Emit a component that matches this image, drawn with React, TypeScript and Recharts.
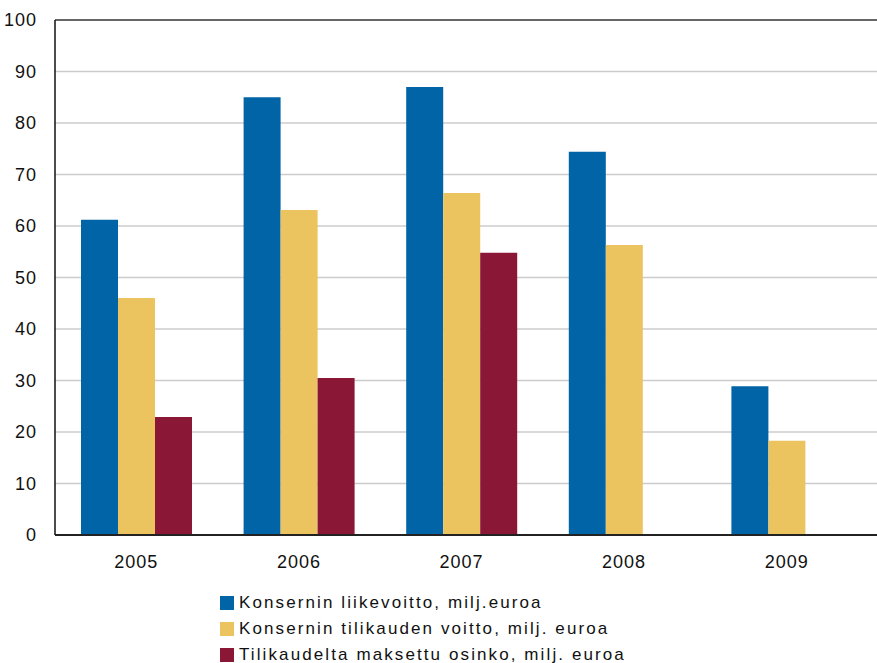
import { BarChart, Bar, XAxis, YAxis, CartesianGrid, ReferenceLine } from 'recharts';

// Vuosittaiset luvut, milj. euroa
const years = ['2005', '2006', '2007', '2008', '2009'];
const liikevoitto = [61.2, 85.0, 87.0, 74.4, 28.9];
const tilikaudenVoitto = [46.0, 63.1, 66.4, 56.3, 18.3];
const osinko = [22.9, 30.5, 54.8, null, null];
const yTicks = [0, 10, 20, 30, 40, 50, 60, 70, 80, 90, 100];

const series = [
  { key: 'liikevoitto', name: 'Konsernin liikevoitto, milj.euroa', color: '#0064A6' },
  { key: 'tilikaudenVoitto', name: 'Konsernin tilikauden voitto, milj. euroa', color: '#EBC35F' },
  { key: 'osinko', name: 'Tilikaudelta maksettu osinko, milj. euroa', color: '#8A1736' },
];

const chartData = years.map((year, i) => ({
  year,
  liikevoitto: liikevoitto[i],
  tilikaudenVoitto: tilikaudenVoitto[i],
  osinko: osinko[i],
}));

const font = '"Liberation Sans", Arial, sans-serif';
const tickStyle = { fill: '#111', fontSize: 18, fontFamily: font, letterSpacing: 1 };

// Selite piirretään kaavion alle erillisenä laatikkona
const LegendBox = () => (
  <div
    style={{
      position: 'absolute',
      left: 220,
      top: 590,
      fontFamily: font,
      fontSize: 17,
      lineHeight: '20px',
      color: '#111',
      letterSpacing: 2.1,
    }}
  >
    {series.map(s => (
      <div key={s.key} style={{ display: 'flex', alignItems: 'center', height: 26 }}>
        <span style={{ width: 14, height: 14, background: s.color, marginRight: 5, display: 'inline-block' }} />
        <span>{s.name}</span>
      </div>
    ))}
  </div>
);

export default function App() {
  return (
    <div style={{ position: 'absolute', left: 0, top: 0, width: 877, height: 663, overflow: 'hidden', background: '#fff' }}>
      <BarChart
        width={877}
        height={663}
        data={chartData}
        margin={{ top: 20, right: 0, left: 0, bottom: 88 }}
        barSize={37}
        barGap={0}
      >
        <CartesianGrid horizontal vertical={false} stroke="#cccccc" strokeWidth={1.5} />
        <XAxis
          dataKey="year"
          height={40}
          padding={{ left: 0, right: 9 }}
          tickLine={false}
          tickSize={0}
          tickMargin={20}
          axisLine={{ stroke: '#222', strokeWidth: 2 }}
          tick={tickStyle}
        />
        <YAxis
          width={55}
          domain={[0, 100]}
          ticks={yTicks}
          interval={0}
          tickLine={false}
          tickSize={0}
          tickMargin={18}
          axisLine={{ stroke: '#111', strokeWidth: 1.5 }}
          tick={tickStyle}
        />
        <ReferenceLine y={100} stroke="#666" strokeWidth={2} />
        {series.map(s => (
          <Bar key={s.key} dataKey={s.key} name={s.name} fill={s.color} isAnimationActive={false} />
        ))}
      </BarChart>
      <LegendBox />
    </div>
  );
}
